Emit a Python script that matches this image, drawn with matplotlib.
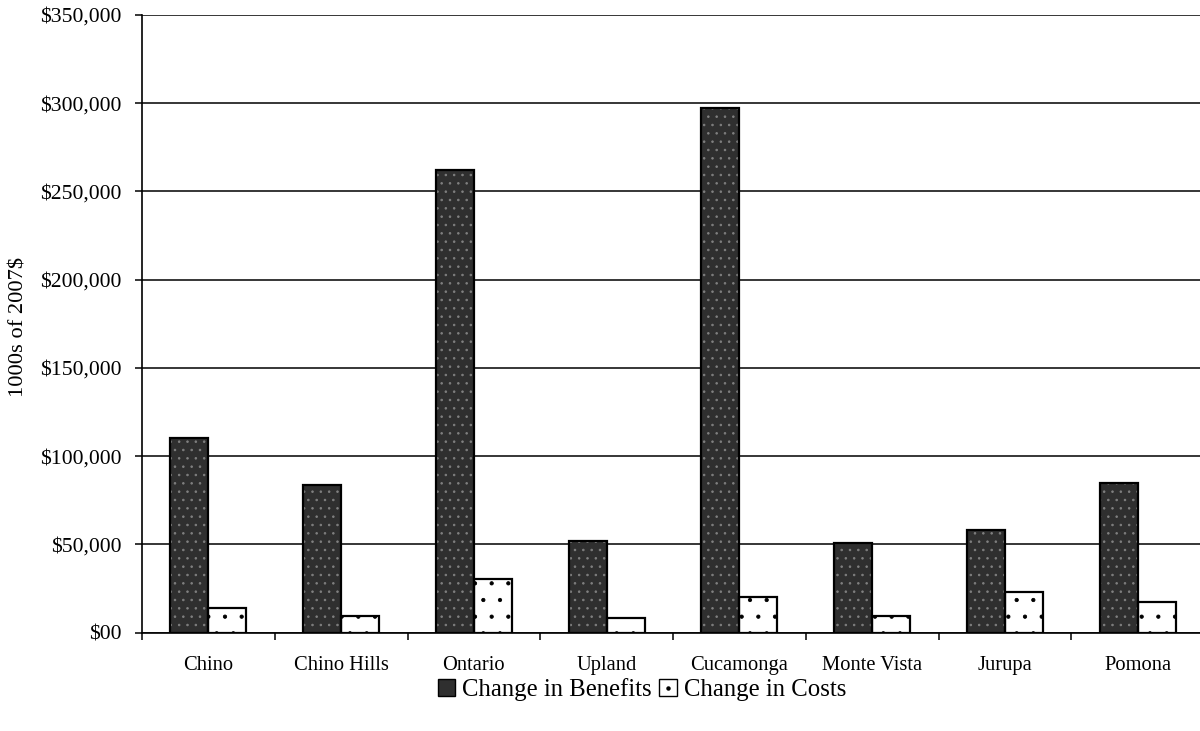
import matplotlib
matplotlib.use("Agg")
import matplotlib.pyplot as plt
from matplotlib.patches import Patch
from matplotlib.lines import Line2D
from matplotlib.legend_handler import HandlerTuple
from matplotlib.ticker import FuncFormatter, FixedLocator
import numpy as np

categories = ["Chino", "Chino Hills", "Ontario", "Upland", "Cucamonga",
              "Monte Vista", "Jurupa", "Pomona"]
benefits = [110000, 83500, 262000, 52000, 297500, 50500, 58000, 84500]
costs = [14000, 9300, 30500, 8000, 20000, 9500, 23000, 17500]
y_ticks = [0, 50000, 100000, 150000, 200000, 250000, 300000, 350000]

plt.rcParams['font.family'] = ['Liberation Serif', 'DejaVu Serif']
plt.rcParams['hatch.linewidth'] = 0.6

W, H = 1200, 731
fig = plt.figure(figsize=(W / 100, H / 100), dpi=100)
left, right, top, bottom = 142, 1204, 15, 632.5
ax = fig.add_axes([left / W, (H - bottom) / H, (right - left) / W, (bottom - top) / H])

x = np.arange(len(categories)) + 0.5
bw = 0.286

ben_face = '#2f2f2f'
dot_gray = '#808080'

# benefits: dark fill with light dotted texture, then a black outline on top
ax.bar(x - bw / 2, benefits, width=bw, color=ben_face, edgecolor=dot_gray,
       hatch='..', linewidth=0, zorder=3)
ax.bar(x - bw / 2, benefits, width=bw, fill=False, edgecolor='black',
       linewidth=1.6, zorder=4)

# costs: white fill with sparse black dots
ax.bar(x + bw / 2, costs, width=bw, color='white', edgecolor='black',
       hatch='.', linewidth=0, zorder=3)
ax.bar(x + bw / 2, costs, width=bw, fill=False, edgecolor='black',
       linewidth=1.6, zorder=4)

ax.set_xlim(0, len(categories))
ax.set_ylim(0, 350000)

ax.set_yticks(y_ticks)
ax.yaxis.set_major_formatter(FuncFormatter(lambda v, p: "$00" if v == 0 else f"${int(v):,}"))
ax.grid(axis='y', color='black', linewidth=1.1, zorder=1)
ax.set_axisbelow(True)

# category boundaries as tick marks, names centred between them
ax.xaxis.set_major_locator(FixedLocator(np.arange(len(categories) + 1)))
ax.set_xticklabels([])
ax.set_xticks(x, minor=True)
ax.set_xticklabels(categories, minor=True)
ax.tick_params(axis='x', which='major', length=5, width=1.1, direction='out', color='black')
ax.tick_params(axis='x', which='minor', length=0, pad=17, labelsize=14.8)
ax.tick_params(axis='y', length=5, width=1.1, direction='out', pad=9.5, labelsize=15.6)

for s in ['top', 'right']:
    ax.spines[s].set_visible(False)
for s in ['left', 'bottom']:
    ax.spines[s].set_linewidth(1.2)
    ax.spines[s].set_color('black')

fig.text(19 / W, 1 - 327 / H, "1000s of 2007$", rotation=90, ha='center', va='center',
         fontsize=16.2)

ben_handle = Patch(facecolor=ben_face, edgecolor='black', linewidth=1.0)
cost_handle = (Patch(facecolor='white', edgecolor='black', linewidth=1.0),
               Line2D([], [], linestyle='none', marker='o', markersize=2.2,
                      color='black'))
fig.legend([ben_handle, cost_handle], ["Change in Benefits", "Change in Costs"], ncol=2,
           loc='center', bbox_to_anchor=(642 / W, 1 - 690 / H), frameon=False,
           fontsize=17.8, handlelength=0.7, handleheight=0.7, handletextpad=0.3,
           columnspacing=0.3, handler_map={tuple: HandlerTuple(ndivide=1)})

fig.savefig("out.png", dpi=100)
